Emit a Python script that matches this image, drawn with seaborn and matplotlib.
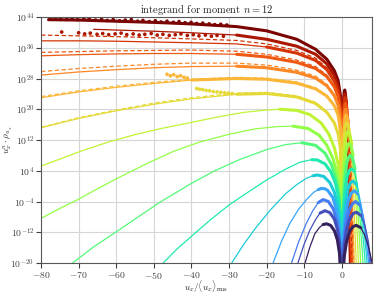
import numpy as np
import pandas as pd
import matplotlib
matplotlib.use("Agg")
import matplotlib.pyplot as plt
import seaborn as sns
from matplotlib.ticker import FixedLocator, LogFormatterSciNotation, NullLocator

# ---------------- data (x, log10 of integrand) ----------------
# lower curves (narrow distributions) : negative branch / positive branch
NEG_X0 = [-10.5, -9.8, -8.5, -7.2, -6.0, -5.0, -4.1, -3.0, -2.0, -1.2, -0.6, 0.0]
NEG_Y0 = [-23.0, -20.0, -15.8, -12.4, -10.8, -10.0, -9.8, -10.2, -11.6, -14.0, -17.8, -30.0]
POS_X0 = [0.0, 0.6, 1.2, 2.0, 3.0, 3.8, 5.0, 6.0, 7.0, 8.0, 8.6]
POS_Y0 = [-30.0, -18.5, -14.6, -11.8, -10.5, -10.2, -10.8, -12.6, -15.5, -19.8, -23.0]

NEG_X1 = [-12.5, -11.7, -10.0, -8.5, -7.0, -5.8, -4.5, -3.2, -2.0, -1.2, -0.6, 0.0]
NEG_Y1 = [-23.0, -20.0, -15.0, -11.4, -8.7, -7.0, -6.4, -6.9, -8.6, -11.2, -15.0, -30.0]
POS_X1 = [0.0, 0.6, 1.2, 2.0, 3.0, 3.9, 5.0, 6.0, 7.0, 7.7, 8.4]
POS_Y1 = [-30.0, -15.8, -11.5, -8.6, -7.1, -6.8, -7.6, -10.0, -14.2, -20.0, -26.0]

NEG_X2 = [-14.5, -13.4, -11.5, -9.5, -7.8, -6.3, -5.0, -3.6, -2.3, -1.3, -0.6, 0.0]
NEG_Y2 = [-23.5, -20.0, -14.5, -9.8, -6.5, -4.3, -3.5, -4.0, -5.9, -9.2, -14.0, -30.0]
POS_X2 = [0.0, 0.5, 1.1, 1.9, 2.8, 3.6, 4.6, 5.6, 6.5, 7.4, 8.2]
POS_Y2 = [-30.0, -14.5, -9.5, -6.3, -4.6, -4.0, -4.8, -7.5, -12.0, -20.0, -28.0]

NEG_X3 = [-19.5, -18.3, -16.0, -13.8, -11.5, -9.4, -7.5, -6.3, -5.4, -4.5, -3.8, -2.4, -1.3, -0.6, 0.0]
NEG_Y3 = [-23.0, -20.0, -14.2, -9.6, -6.0, -3.5, -1.6, -0.9, -0.6, -0.7, -1.1, -3.0, -6.6, -11.5, -30.0]
POS_X3 = [0.0, 0.5, 1.0, 1.7, 2.5, 3.3, 4.2, 5.1, 6.0, 7.1, 7.8]
POS_Y3 = [-30.0, -12.5, -7.2, -3.6, -1.8, -1.2, -2.0, -4.8, -10.0, -20.0, -28.0]

NEG_X4 = [-31.0, -29.3, -26.0, -22.7, -19.0, -15.0, -12.0, -9.5, -7.7, -6.5, -4.8, -3.2, -2.0, -1.1, -0.5, 0.0]
NEG_Y4 = [-24.0, -20.0, -15.0, -10.6, -6.2, -2.0, 0.4, 2.0, 2.7, 2.9, 2.5, 0.9, -1.6, -5.2, -10.0, -30.0]
POS_X4 = [0.0, 0.5, 1.0, 1.6, 2.3, 3.0, 3.8, 4.7, 5.7, 6.7, 7.4]
POS_Y4 = [-30.0, -9.5, -4.2, -0.6, 0.9, 1.3, 0.5, -3.0, -9.5, -20.0, -28.0]

NEG_X5 = [-49.0, -47.5, -44.0, -40.4, -35.0, -30.0, -25.0, -20.0, -15.0, -11.2, -8.0, -6.5, -4.5, -3.0, -1.8, -0.9, -0.4, 0.0]
NEG_Y5 = [-23.0, -20.0, -16.5, -13.4, -8.8, -4.9, -1.6, 1.6, 4.4, 6.2, 6.9, 6.8, 5.8, 3.8, 1.0, -2.8, -7.5, -30.0]
POS_X5 = [0.0, 0.4, 0.9, 1.4, 2.0, 2.6, 3.3, 4.1, 5.1, 6.2, 6.9]
POS_Y5 = [-30.0, -6.5, -0.3, 2.6, 4.1, 4.5, 3.8, 0.5, -7.0, -20.0, -28.0]

NEG_X6 = [-73.0, -71.6, -66.0, -60.0, -54.0, -48.4, -40.4, -34.0, -27.0, -20.0, -15.0, -10.7, -7.0, -4.5, -2.8, -1.5, -0.7, 0.0]
NEG_Y6 = [-23.0, -20.0, -15.8, -11.9, -7.9, -4.2, 0.5, 3.9, 7.0, 9.5, 10.8, 11.3, 10.6, 8.6, 5.6, 1.8, -3.0, -30.0]
POS_X6 = [0.0, 0.4, 0.8, 1.3, 1.7, 2.2, 2.8, 3.5, 4.5, 5.6, 6.2]
POS_Y6 = [-30.0, -3.5, 2.5, 6.0, 7.4, 8.0, 7.3, 4.5, -3.5, -20.0, -28.0]

NEG_X7 = [-80.0, -75.0, -70.0, -65.0, -60.0, -52.0, -44.9, -38.0, -30.0, -23.0, -17.0, -13.0, -9.0, -6.0, -4.0, -2.4, -1.2, -0.5, 0.0]
NEG_Y7 = [-8.4, -5.8, -3.4, -0.7, 1.9, 5.8, 9.0, 11.4, 13.5, 14.9, 15.5, 15.6, 15.0, 13.2, 10.6, 7.2, 2.9, -2.0, -30.0]
POS_X7 = [0.0, 0.3, 0.7, 1.1, 1.5, 1.9, 2.4, 3.0, 3.9, 5.0, 5.6]
POS_Y7 = [-30.0, -0.5, 6.0, 9.0, 10.6, 11.2, 10.6, 8.0, 0.0, -20.0, -28.0]

NEG_X8 = [-80.0, -74.0, -68.8, -62.0, -55.0, -48.0, -40.4, -33.0, -26.0, -20.0, -16.5, -12.0, -8.5, -5.5, -3.5, -2.0, -1.0, -0.4, 0.0]
NEG_Y8 = [5.2, 7.4, 9.3, 11.5, 13.4, 15.0, 16.5, 18.0, 19.2, 19.8, 20.0, 19.7, 18.6, 16.4, 13.6, 10.0, 5.6, 0.5, -30.0]
POS_X8 = [0.0, 0.3, 0.6, 0.9, 1.2, 1.6, 2.0, 2.6, 3.4, 4.4, 5.0]
POS_Y8 = [-30.0, 3.0, 8.5, 11.5, 13.3, 14.3, 13.8, 11.0, 3.0, -20.0, -28.0]

# upper curves (heavy tails), shared x grid on the negative side
X_UPPER = [-80.0, -70.0, -60.0, -50.0, -40.0, -28.0, -20.0, -12.0, -7.0, -4.0, -2.0, -1.0, -0.4, 0.0]
NEG_Y9 = [15.2, 17.6, 19.6, 21.3, 22.7, 23.9, 24.1, 23.2, 21.5, 19.2, 16.4, 13.6, 9.8, -30.0]
NEG_Y10 = [23.0, 24.5, 25.7, 26.7, 27.6, 28.0, 27.8, 26.8, 25.3, 23.4, 20.9, 18.4, 14.6, -30.0]
NEG_Y11 = [28.9, 29.7, 30.3, 30.8, 31.1, 31.2, 30.8, 29.6, 28.1, 26.1, 23.5, 21.0, 17.2, -30.0]
NEG_Y12 = [33.9, 34.2, 34.4, 34.5, 34.5, 34.3, 33.6, 32.2, 30.6, 28.5, 25.8, 23.2, 19.2, -30.0]
NEG_Y13 = [37.8, 37.8, 37.7, 37.5, 37.3, 37.0, 36.2, 34.6, 32.7, 30.3, 27.3, 24.6, 20.6, -30.0]
NEG_X14 = [-66.0, -60.0, -50.0, -40.0, -28.0, -20.0, -12.0, -7.0, -4.0, -2.0, -1.0, -0.4, 0.0]
NEG_Y14 = [40.8, 40.6, 40.3, 39.9, 39.3, 38.2, 36.4, 34.3, 31.8, 28.7, 26.0, 22.2, -30.0]
NEG_X15 = [-78.0, -70.0, -60.0, -50.0, -40.0, -28.0, -20.0, -12.0, -7.0, -4.0, -2.0, -1.0, -0.4, 0.0]
NEG_Y15 = [43.3, 43.2, 42.9, 42.6, 42.2, 41.5, 40.4, 38.2, 35.6, 33.0, 30.0, 27.4, 23.6, -30.0]

POS_X9 = [0.0, 0.25, 0.5, 0.8, 1.05, 1.3, 1.7, 2.2, 2.9, 3.8, 4.4]
POS_Y9 = [-30.0, 6.0, 11.5, 14.8, 16.1, 16.5, 15.6, 12.5, 4.0, -20.0, -30.0]
POS_X10 = [0.0, 0.2, 0.45, 0.7, 0.9, 1.1, 1.45, 1.9, 2.5, 3.3, 3.9]
POS_Y10 = [-30.0, 7.0, 13.0, 16.5, 18.0, 18.5, 17.6, 14.0, 5.0, -20.0, -30.0]
POS_X11 = [0.0, 0.2, 0.4, 0.6, 0.8, 1.0, 1.3, 1.7, 2.2, 2.9, 3.4]
POS_Y11 = [-30.0, 9.0, 14.5, 17.5, 19.3, 20.0, 19.0, 15.5, 6.0, -20.0, -30.0]
POS_X12 = [0.0, 0.15, 0.35, 0.55, 0.75, 0.9, 1.2, 1.55, 2.0, 2.6, 3.1]
POS_Y12 = [-30.0, 8.0, 15.0, 18.8, 20.8, 21.5, 20.5, 16.5, 6.0, -20.0, -30.0]
POS_X13 = [0.0, 0.15, 0.3, 0.5, 0.7, 0.85, 1.1, 1.4, 1.8, 2.3, 2.8]
POS_Y13 = [-30.0, 10.0, 16.0, 20.3, 22.3, 23.0, 22.0, 18.0, 7.0, -20.0, -30.0]
POS_X14 = [0.0, 0.15, 0.3, 0.5, 0.65, 0.8, 1.0, 1.3, 1.65, 2.1, 2.6]
POS_Y14 = [-30.0, 11.0, 17.0, 21.5, 23.3, 24.0, 23.0, 19.0, 8.0, -20.0, -30.0]
POS_X15 = [0.0, 0.12, 0.28, 0.45, 0.6, 0.75, 0.95, 1.2, 1.55, 2.0, 2.5]
POS_Y15 = [-30.0, 11.0, 18.0, 22.5, 24.3, 25.0, 24.0, 20.0, 9.0, -20.0, -30.0]

# dashed model curves (upper family)
DASH_Y9 = [15.3, 17.8, 19.8, 21.6, 23.0, 24.2, 24.4, 23.5, 21.8, 19.4, 16.6, 13.8, 10.0, -30.0]
DASH_Y10 = [23.3, 24.8, 26.0, 27.0, 27.8, 28.3, 28.1, 27.1, 25.6, 23.6, 21.1, 18.6, 14.8, -30.0]
DASH_Y11 = [29.8, 30.6, 31.2, 31.7, 32.0, 32.0, 31.5, 30.2, 28.6, 26.5, 23.9, 21.3, 17.5, -30.0]
DASH_Y12 = [34.8, 35.0, 35.2, 35.3, 35.4, 35.1, 34.3, 32.8, 31.1, 28.9, 26.1, 23.5, 19.5, -30.0]
DASH_Y13 = [39.3, 39.1, 38.9, 38.6, 38.3, 37.9, 37.0, 35.3, 33.3, 30.8, 27.7, 25.0, 21.0, -30.0]
DASH_POS_X12 = [0.0, 0.25, 0.5, 0.75, 1.0, 1.2, 1.5, 1.9, 2.4, 3.0, 3.5]
DASH_POS_X13 = [0.0, 0.2, 0.4, 0.65, 0.9, 1.05, 1.35, 1.7, 2.1, 2.7, 3.2]

# range covered by the measured (dotted) data of each curve
DATA_LO = [-5.5, -6.0, -6.5, -7.0, -7.8, -9.0, -11.0, -13.0, -17.0, -28.0, -40.0, -28.0, -28.0, -20.0, -28.0, -78.0]
DATA_HI = [5.0, 5.0, 4.8, 4.6, 4.4, 4.0, 3.6, 3.2, 2.8, 2.3, 2.0, 1.8, 1.6, 1.4, 1.3, 1.2]

# scattered data points outside the smooth part
DOT_X15 = [-77.6, -76.2, -74.8, -73.1, -71.7, -70.3, -68.6, -67.2, -65.5, -63.9, -62.4, -60.8, -59.1, -57.6,
           -56.0, -54.3, -52.9, -51.2, -49.6, -48.1, -46.5, -44.8, -43.3, -41.7, -40.1, -38.6, -37.0, -35.3,
           -33.8, -32.2, -30.6]
DOT_Y15 = [43.8, 43.5, 43.7, 43.4, 43.6, 43.3, 43.5, 43.6, 43.2, 43.4, 43.1, 43.3, 43.0, 43.2, 43.3, 42.9,
           43.1, 42.8, 43.0, 42.7, 42.9, 42.6, 42.8, 42.5, 42.6, 42.3, 42.4, 42.2, 42.0, 42.1, 41.9]
DOT_X14 = [-74.5, -70.0, -68.4, -66.9, -65.1, -63.6, -62.0, -60.3, -58.7, -57.2, -55.5, -53.9, -52.4, -50.7,
           -49.1, -47.6, -45.9, -44.3, -42.8, -41.1, -39.5, -38.0, -36.3, -34.7, -33.2, -31.5]
DOT_Y14 = [40.1, 39.9, 39.6, 39.8, 39.5, 39.7, 39.4, 39.6, 39.8, 39.4, 39.6, 39.3, 39.5, 39.7, 39.3, 39.5,
           39.2, 39.4, 39.6, 39.2, 39.4, 39.1, 39.3, 39.0, 39.2, 39.0]
DOT_X10 = [-46.5, -45.6, -44.7, -43.8, -42.9, -42.0, -41.1]
DOT_Y10 = [29.1, 28.7, 29.0, 28.5, 28.7, 28.3, 28.1]
DOT_X9 = [-38.6, -37.8, -37.0, -36.1, -35.2, -34.2, -33.2, -32.2, -31.2, -30.2, -29.2]
DOT_Y9 = [25.4, 25.2, 25.1, 24.9, 24.8, 24.6, 24.5, 24.4, 24.3, 24.2, 24.1]

TITLE = "integrand for moment $n = 12$"
XLABEL = r"$u_x/\langle u_x\rangle_{\rm rms}$"
YLABEL = r"$u_x^n \cdot \rho_{u_x}$"
X_TICKS = [-80, -70, -60, -50, -40, -30, -20, -10, 0]
Y_TICK_EXP = [-20, -12, -4, 4, 12, 20, 28, 36, 44]

# ---------------- build tables ----------------
curves = [
    (NEG_X0, NEG_Y0, POS_X0, POS_Y0), (NEG_X1, NEG_Y1, POS_X1, POS_Y1),
    (NEG_X2, NEG_Y2, POS_X2, POS_Y2), (NEG_X3, NEG_Y3, POS_X3, POS_Y3),
    (NEG_X4, NEG_Y4, POS_X4, POS_Y4), (NEG_X5, NEG_Y5, POS_X5, POS_Y5),
    (NEG_X6, NEG_Y6, POS_X6, POS_Y6), (NEG_X7, NEG_Y7, POS_X7, POS_Y7),
    (NEG_X8, NEG_Y8, POS_X8, POS_Y8), (X_UPPER, NEG_Y9, POS_X9, POS_Y9),
    (X_UPPER, NEG_Y10, POS_X10, POS_Y10), (X_UPPER, NEG_Y11, POS_X11, POS_Y11),
    (X_UPPER, NEG_Y12, POS_X12, POS_Y12), (X_UPPER, NEG_Y13, POS_X13, POS_Y13),
    (NEG_X14, NEG_Y14, POS_X14, POS_Y14), (NEG_X15, NEG_Y15, POS_X15, POS_Y15),
]
n_curves = len(curves)
cmap = matplotlib.colormaps["turbo"]
palette = {i: cmap(0.02 + 0.98 * i / (n_curves - 1)) for i in range(n_curves)}
order = list(range(n_curves))[::-1]

rows = []
for i, (xn, yn, xp, yp) in enumerate(curves):
    for x, y in zip(list(xn) + list(xp), list(yn) + list(yp)):
        rows.append((i, x, 10.0 ** y))
df = pd.DataFrame(rows, columns=["curve", "x", "y"])

data_df = pd.concat([df[(df.curve == i) & (df.x >= DATA_LO[i]) & (df.x <= DATA_HI[i])]
                     for i in range(n_curves)])

dashed = [(9, X_UPPER, DASH_Y9, None, None), (10, X_UPPER, DASH_Y10, None, None),
          (11, X_UPPER, DASH_Y11, None, None),
          (12, X_UPPER, DASH_Y12, DASH_POS_X12, POS_Y12),
          (13, X_UPPER, DASH_Y13, DASH_POS_X13, POS_Y13)]
drows = []
for i, xn, yn, xp, yp in dashed:
    xs = list(xn) + (list(xp) if xp is not None else [])
    ys = list(yn) + (list(yp) if yp is not None else [])
    for x, y in zip(xs, ys):
        drows.append((i, x, 10.0 ** y))
dash_df = pd.DataFrame(drows, columns=["curve", "x", "y"])

dots = [(15, DOT_X15, DOT_Y15), (14, DOT_X14, DOT_Y14), (10, DOT_X10, DOT_Y10), (9, DOT_X9, DOT_Y9)]
dot_df = pd.DataFrame([(i, x, 10.0 ** y) for i, xs, ys in dots for x, y in zip(xs, ys)],
                      columns=["curve", "x", "y"])

# ---------------- style ----------------
sns.set_style("whitegrid", rc={
    "axes.edgecolor": "0.35", "axes.linewidth": 0.8,
    "grid.color": "0.84", "grid.linewidth": 0.9,
    "xtick.bottom": True, "ytick.left": True,
    "xtick.color": "0.25", "ytick.color": "0.25",
    "xtick.major.size": 2.5, "ytick.major.size": 2.5,
    "xtick.major.width": 0.6, "ytick.major.width": 0.6,
})
plt.rcParams["font.family"] = "serif"
plt.rcParams["font.serif"] = ["cmr10", "DejaVu Serif"]
plt.rcParams["mathtext.fontset"] = "cm"
plt.rcParams["axes.formatter.use_mathtext"] = True
plt.rcParams["axes.unicode_minus"] = True

fig = plt.figure(figsize=(3.77, 2.94), dpi=100)
ax = fig.add_axes([41 / 377, 1 - 263 / 294, 331 / 377, 246 / 294])

sns.lineplot(data=df, x="x", y="y", hue="curve", units="curve", estimator=None, sort=False,
             palette=palette, hue_order=order, legend=False, linewidth=0.9, ax=ax)
sns.lineplot(data=dash_df, x="x", y="y", hue="curve", units="curve", estimator=None, sort=False,
             palette=palette, hue_order=[13, 12, 11, 10, 9], legend=False, linewidth=0.9,
             linestyle=(0, (3.5, 2.0)), ax=ax)
sns.lineplot(data=data_df, x="x", y="y", hue="curve", units="curve", estimator=None, sort=False,
             palette=palette, hue_order=order, legend=False, linewidth=2.2, ax=ax)
sns.scatterplot(data=dot_df, x="x", y="y", hue="curve", palette=palette, legend=False,
                s=7, linewidth=0, ax=ax)

ax.set_yscale("log")
ax.set_xlim(-80, 8)
ax.set_ylim(1e-20, 1e44)
ax.xaxis.set_major_locator(FixedLocator(X_TICKS))
ax.yaxis.set_major_locator(FixedLocator([10.0 ** e for e in Y_TICK_EXP]))
ax.yaxis.set_major_formatter(LogFormatterSciNotation())
ax.yaxis.set_minor_locator(NullLocator())
ax.xaxis.set_minor_locator(NullLocator())
ax.tick_params(labelsize=7, pad=1.2)
ax.grid(True, which="major")
ax.set_axisbelow(True)

ax.set_title(TITLE, fontsize=7.5, pad=3)
ax.set_xlabel(XLABEL, fontsize=6.5)
ax.set_ylabel(YLABEL, fontsize=6.5)
ax.xaxis.set_label_coords(0.5, -0.064)
ax.yaxis.set_label_coords(-0.08, 0.5)

fig.savefig("out.png", dpi=100)
